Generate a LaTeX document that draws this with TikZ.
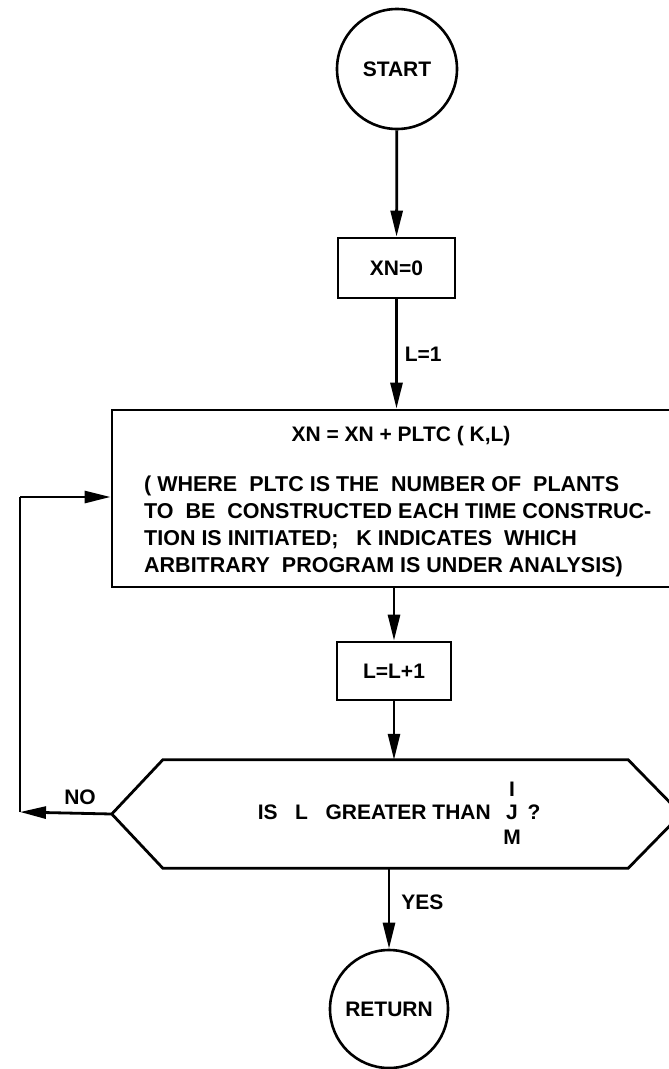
\documentclass[tikz,border=0pt]{standalone}
\usepackage{fontspec}
\setmainfont{Liberation Sans}
\newfontfamily\lettering{Liberation Sans}
\usetikzlibrary{arrows.meta,calc}
\begin{document}
\begin{tikzpicture}[x=1pt,y=-1pt,
  every node/.style={font=\lettering\bfseries\fontsize{21}{27}\selectfont, inner sep=0pt},
  line/.style={line width=2.8pt},
  arr/.style={line width=2.8pt, -{Triangle[length=26pt,width=12pt]}},
  term/.style={draw, circle, line width=2.6pt, minimum size=#1},
  proc/.style={draw, rectangle, line width=2.8pt},
  lbl/.style={anchor=west}]
\useasboundingbox (0,0) rectangle (669,1069);
\fill[white] (0,0) rectangle (669,1069);

% nodes
\node[term=120pt] (start) at (397,69) {START};
\node[proc, minimum width=117pt, minimum height=60pt] (xn0) at (396.5,268) {XN=0};
\node[proc, minimum width=568pt, minimum height=177pt] (calc) at (396,498.5) {};
\node (calct) at (401,436) {XN = XN + PLTC ( K,L)};
\node[align=left, anchor=west, font=\lettering\bfseries\fontsize{21.5}{27}\selectfont] (calcd) at (144,526.5) {( WHERE\ \ PLTC IS THE\ \ NUMBER OF\ \ PLANTS\\TO\ \ BE\ \ CONSTRUCTED EACH TIME CONSTRUC-\\TION IS INITIATED;\ \ \ K INDICATES\ \ WHICH\\ARBITRARY\ \ PROGRAM IS UNDER ANALYSIS)};
\node[proc, minimum width=114pt, minimum height=58pt] (inc) at (394,671) {L=L+1};
\node[minimum width=569pt, minimum height=108pt] (hex) at (396.5,814) {};
\draw[line, line join=miter] (hex.west) -- ($(hex.north west)+(51,0)$) -- ($(hex.north east)+(-53,0)$)
  -- (hex.east) -- ($(hex.south east)+(-53,0)$) -- ($(hex.south west)+(51,0)$) -- cycle;
\node[anchor=east] (hq) at (491,812) {IS\ \ \ L\ \ \ GREATER THAN};
\node (hi) at (512,789) {I};
\node (hj) at (512,812) {J};
\node (hm) at (512,837) {M};
\node (hqm) at (534,812) {?};
\node[term=118pt] (ret) at (389,1009) {RETURN};

% loop coordinates
\coordinate (c1) at (20,812);
\coordinate (c2) at (20,497);

% connectors
\draw[arr] (start) -- (xn0);
\draw[arr] (xn0.south) -- (xn0.south |- calc.north) node[lbl, pos=0.5, xshift=7pt] (l1) {L=1};
\draw[arr] (inc.north |- calc.south) -- (inc.north);
\draw[arr] (inc.south) -- (inc.south |- hex.north);
\draw[arr] (ret.north |- hex.south) -- (ret.north) node[lbl, pos=0.42, xshift=11pt] (yes) {YES};
\draw[arr] (hex.west) -- (c1);
\node (no) at (80,797) {NO};
\draw[line] (c1) -- (c2);
\draw[arr] (c2) -- (c2 -| calc.west);
\end{tikzpicture}
\end{document}
